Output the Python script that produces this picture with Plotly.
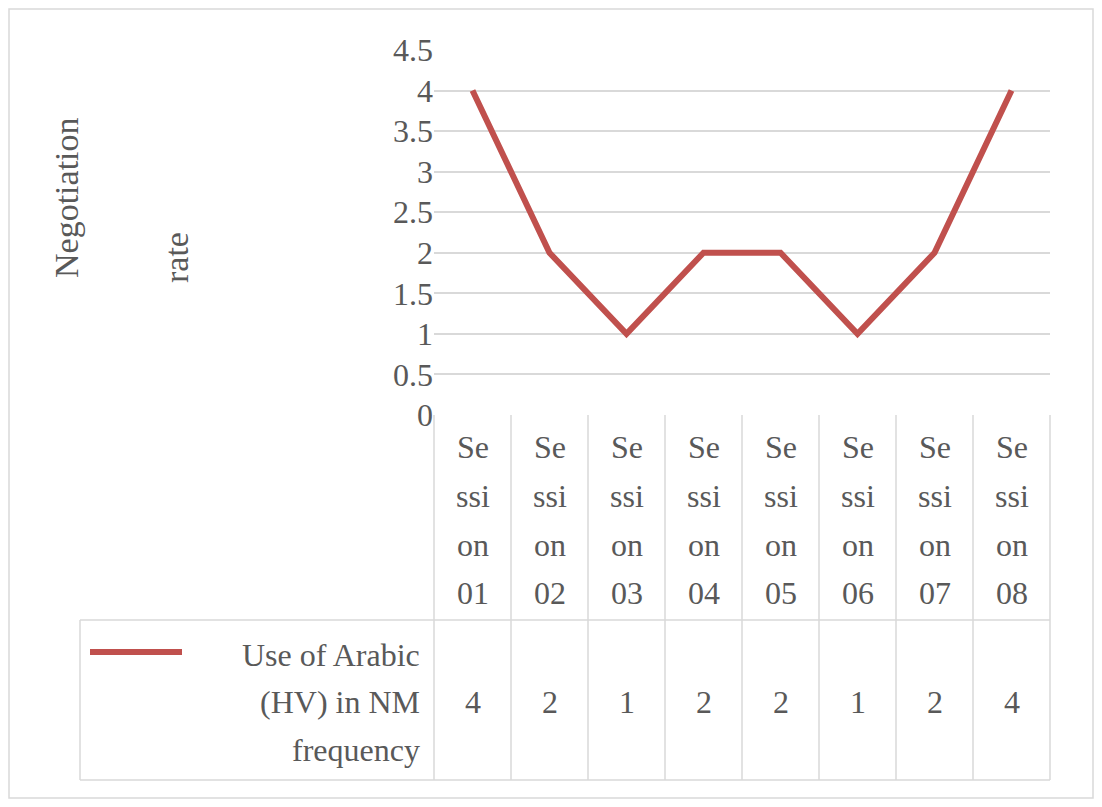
import plotly.graph_objects as go

categories = ["Session 01","Session 02","Session 03","Session 04","Session 05","Session 06","Session 07","Session 08"]
cat_parts = [["Se", "ssi", "on", c[-2:]] for c in categories]
values = [4, 2, 1, 2, 2, 1, 2, 4]
series_lines = ["Use of Arabic", "(HV) in NM", "frequency"]
yticks = [0, 0.5, 1, 1.5, 2, 2.5, 3, 3.5, 4, 4.5]

W, H = 1102, 807
OFF = 8
L, R, T, B = 434, 1050, 50, 415
FONT = "Liberation Serif"
GRAY = "#595959"
LINE = "#d9d9d9"
RED = "#c0504d"
FS = 32

def px(x): return (x - L) / (R - L)
def py(y): return (B - y) / (B - T)

xs = list(range(len(categories)))
fig = go.Figure(go.Scatter(x=xs, y=values, mode="lines",
                           line=dict(color=RED, width=6), showlegend=False))

shapes = []
cw = (R - L) / len(categories)
for i in range(len(categories) + 1):
    x = L + i * cw
    shapes.append(dict(type="line", xref="paper", yref="paper", x0=px(x), x1=px(x),
                       y0=py(B), y1=py(780), line=dict(color=LINE, width=1.5)))
for y in (620, 780):
    shapes.append(dict(type="line", xref="paper", yref="paper", x0=px(80), x1=px(R),
                       y0=py(y), y1=py(y), line=dict(color=LINE, width=1.5)))
shapes.append(dict(type="line", xref="paper", yref="paper", x0=px(80), x1=px(80),
                   y0=py(620), y1=py(780), line=dict(color=LINE, width=1.5)))
shapes.append(dict(type="line", xref="paper", yref="paper", x0=px(90), x1=px(182),
                   y0=py(652), y1=py(652), line=dict(color=RED, width=6)))
shapes.append(dict(type="rect", xref="paper", yref="paper", x0=px(9), x1=px(W - 9),
                   y0=py(9), y1=py(H - 9), line=dict(color=LINE, width=1.5)))

ann = []
tf = dict(family=FONT, size=FS, color=GRAY)
row_y = [447, 496, 545, 593]
for i, (parts, v) in enumerate(zip(cat_parts, values)):
    for p, yy in zip(parts, row_y):
        ann.append(dict(x=i, xref="x", y=py(yy), yref="paper", text=p, showarrow=False,
                        font=tf, xanchor="center", yanchor="middle"))
    ann.append(dict(x=i, xref="x", y=py(702), yref="paper", text=str(v), showarrow=False,
                    font=tf, xanchor="center", yanchor="middle"))
for s, yy in zip(series_lines, [655, 702, 750]):
    ann.append(dict(x=px(422), xref="paper", y=py(yy), yref="paper", text=s,
                    showarrow=False, xanchor="right", yanchor="middle", font=tf))
ann.append(dict(x=px(66), xref="paper", y=py(198), yref="paper", text="Negotiation",
                showarrow=False, textangle=-90, xanchor="center", yanchor="middle",
                font=dict(family=FONT, size=34, color=GRAY)))
ann.append(dict(x=px(176), xref="paper", y=py(258), yref="paper", text="rate",
                showarrow=False, textangle=-90, xanchor="center", yanchor="middle",
                font=dict(family=FONT, size=34, color=GRAY)))

fig.update_layout(
    width=W - 2 * OFF, height=H - 2 * OFF,
    margin=dict(l=L - OFF, r=(W - OFF) - R, t=T - OFF, b=(H - OFF) - B),
    paper_bgcolor="white", plot_bgcolor="white",
    xaxis=dict(range=[-0.5, len(categories) - 0.5], showticklabels=False, showgrid=False,
               zeroline=False, fixedrange=True),
    yaxis=dict(range=[0, 4.5], tickvals=yticks, ticktext=[f"{t:g}" for t in yticks],
               showgrid=True, gridcolor=LINE, gridwidth=1.5, zeroline=False,
               tickfont=tf, ticks="", ticklen=0),
    shapes=shapes, annotations=ann,
)
fig.write_html("out.html")
